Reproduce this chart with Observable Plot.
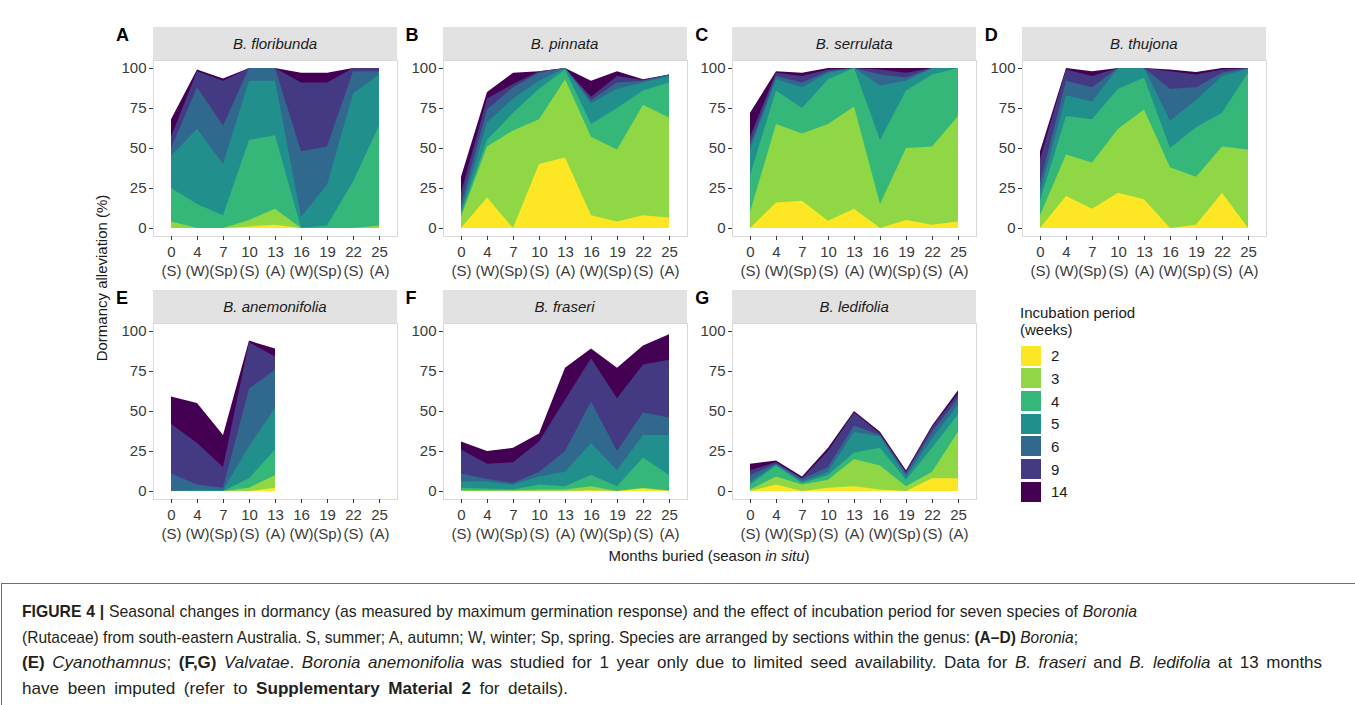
<!DOCTYPE html>
<html>
<head>
<meta charset="utf-8">
<script src="https://cdn.jsdelivr.net/npm/d3@7"></script>
<script src="https://cdn.jsdelivr.net/npm/@observablehq/plot@0.6"></script>
<style>
  html, body { margin: 0; padding: 0; background: #fff; }
  #root { position: relative; width: 1355px; height: 705px; overflow: hidden; background: #fff;
          font-family: "Liberation Sans", Arial, Helvetica, sans-serif; color: #1a1a1a; }
  .abs { position: absolute; }
  .strip { position: absolute; background: #e2e2e2; font-style: italic; font-size: 15px; color: #1a1a1a;
           display: flex; align-items: center; justify-content: center; }
  .letter { position: absolute; font-weight: bold; font-size: 18px; line-height: 18px; color: #000; }
  .cap { position: absolute; left: 22px; white-space: nowrap; font-size: 17px; line-height: 25.5px; color: #231f20;
         font-family: "Liberation Sans Narrow", "Arial Narrow", "Liberation Sans", Arial, sans-serif; transform-origin: 0 50%; }
  .leg { position: absolute; font-size: 15px; line-height: 17px; color: #1a1a1a; white-space: nowrap; }
</style>
</head>
<body>
<div id="root"></div>
<script>
// ---------- data ----------
const months  = [0, 4, 7, 10, 13, 16, 19, 22, 25];
const seasons = ["S", "W", "Sp", "S", "A", "W", "Sp", "S", "A"];
const periods = [2, 3, 4, 5, 6, 9, 14];            // incubation period (weeks)
const speciesNames = ["B. floribunda", "B. pinnata", "B. serrulata", "B. thujona",
                      "B. anemonifolia", "B. fraseri", "B. ledifolia"];
const panelLetters = ["A", "B", "C", "D", "E", "F", "G"];

// rows = incubation periods (2,3,4,5,6,9,14 weeks); columns = months buried
const floribunda = [
  [0, 0, 0, 1, 2, 0, 0, 0, 0],
  [4, 0, 0, 5, 12, 0, 0, 0, 1.5],
  [25, 15, 8, 55, 58, 0, 1.5, 29, 64],
  [45, 62, 40, 92, 92, 7, 27, 84, 96],
  [50, 88, 64, 100, 100, 48, 51, 98, 98],
  [57, 98, 92, 100, 100, 91, 91, 100, 100],
  [68, 99, 93.5, 100, 100, 97, 97, 100, 100]
];
const pinnata = [
  [0, 19, 0, 40, 44, 8, 4, 8, 6.5],
  [7, 51, 61, 68, 93, 57, 49, 77, 69],
  [9, 55, 72, 87, 99, 65, 75, 86, 91],
  [11, 66, 81, 92, 100, 78, 87, 91, 95],
  [15, 74, 88, 97, 100, 80, 91, 92, 96],
  [22, 81, 90, 98, 100, 82, 95, 92.5, 96],
  [32, 85, 97, 98, 100, 92, 98, 93, 96]
];
const serrulata = [
  [0, 16, 17, 4.5, 12, 0, 5, 2, 4],
  [10, 65, 59, 65, 76, 15, 50, 51, 70],
  [33, 86, 75, 93, 100, 55, 86, 96, 100],
  [49, 93, 88, 97, 100, 89, 92, 100, 100],
  [52, 95, 91, 98, 100, 96, 94, 100, 100],
  [57, 97, 95, 99, 100, 99, 97, 100, 100],
  [72, 98, 97, 100, 100, 100, 100, 100, 100]
];
const thujona = [
  [0, 20, 12, 22, 18, 0, 2, 22, 0],
  [8, 46, 41, 62, 74, 38, 32, 51, 49],
  [17, 70, 68, 87, 94, 50, 63, 72, 97],
  [22, 83, 79, 100, 100, 67, 80, 95, 99.5],
  [28, 92, 88, 100, 100, 87, 88, 97, 100],
  [43, 99, 95, 100, 100, 98, 96, 99, 100],
  [48, 100, 98, 100, 100, 99, 97.5, 100, 100]
];
const anemonifolia = [
  [0, 0, 0, 0, 2, null, null, null, null],
  [0, 0, 0, 2, 10, null, null, null, null],
  [0, 0, 0, 8, 26, null, null, null, null],
  [0, 1, 0.5, 28, 52, null, null, null, null],
  [11, 4, 2, 64, 76, null, null, null, null],
  [42, 30, 15, 93, 84, null, null, null, null],
  [59, 55, 35, 94, 89, null, null, null, null]
];
const fraseri = [
  [0, 0, 0, 0, 0, 0.5, 0, 1.5, 0],
  [0.5, 0.5, 0.5, 1, 1, 3, 0, 2, 0.5],
  [2, 1.5, 1, 4, 3, 10, 3, 21, 10],
  [6, 6, 4, 9, 12, 30, 13, 35, 35],
  [11, 7.5, 5, 12, 25, 56, 25, 49, 46],
  [26, 17, 18, 31, 57, 83, 58, 79, 82],
  [31, 25, 27, 36, 77, 89, 77, 91, 98]
];
const ledifolia = [
  [0, 4, 0, 2, 3, 1, 0, 8, 8],
  [1, 9, 4, 7, 20, 16, 3, 12, 37],
  [4, 16, 5, 10, 24, 27, 7, 27, 48],
  [6, 16.5, 6, 12, 37, 34, 9, 33, 54],
  [10, 17, 7.5, 15, 41, 35, 11, 37, 58],
  [13, 18, 8, 25, 49, 36, 12, 40, 61],
  [17, 19, 9, 27, 50, 37, 13, 41, 63]
];
const speciesValues = [floribunda, pinnata, serrulata, thujona, anemonifolia, fraseri, ledifolia];

// ---------- styles ----------
const viridis = ["#FDE725", "#8FD744", "#35B779", "#21908C", "#31688E", "#443A83", "#440154"];

// ---------- layout ----------
const root = document.getElementById("root");
const frameLefts = [153, 442.6, 732.2, 1021.8];
const frameTops = [60, 323];
const frameW = 244, frameH = 176, stripH = 33.5;
const mL = 44, mR = 8, mT = 1, mB = 46;
const seasonOf = new Map(months.map((m, i) => [m, seasons[i]]));

function tidy(values) {
  const out = [];
  values.forEach((row, pi) => row.forEach((v, mi) => {
    if (v != null) out.push({month: months[mi], period: periods[pi], value: v});
  }));
  return out;
}

speciesNames.forEach((name, k) => {
  const col = k < 4 ? k : k - 4;
  const row = k < 4 ? 0 : 1;
  const fl = frameLefts[col], ft = frameTops[row];
  const data = tidy(speciesValues[k]);

  const strip = document.createElement("div");
  strip.className = "strip";
  Object.assign(strip.style, {left: fl + "px", top: (ft - stripH) + "px", width: frameW + "px", height: stripH + "px"});
  strip.textContent = name;
  root.appendChild(strip);

  const letter = document.createElement("div");
  letter.className = "letter";
  Object.assign(letter.style, {left: (fl - 37) + "px", top: (ft - 34.3) + "px"});
  letter.textContent = panelLetters[k];
  root.appendChild(letter);

  const chart = Plot.plot({
    width: mL + frameW + mR,
    height: mT + frameH + mB,
    marginLeft: mL, marginRight: mR, marginTop: mT, marginBottom: mB,
    style: {fontFamily: "'Liberation Sans', Arial, sans-serif", fontSize: "15px", background: "transparent",
            overflow: "visible", color: "#3a3a3a"},
    x: {type: "point", domain: months, padding: 0.6},
    y: {domain: [-5, 105]},
    color: {type: "ordinal", domain: periods, range: viridis},
    marks: [
      ...periods.slice().reverse().map(p =>
        Plot.areaY(data.filter(d => d.period === p), {x: "month", y1: 0, y2: "value", fill: "period"})),
      Plot.frame({stroke: "#d9d9d9"}),
      Plot.axisY({ticks: [0, 25, 50, 75, 100], tickSize: 4, tickPadding: 3, label: null, fontSize: 15}),
      Plot.axisX({tickFormat: m => `${m}\n(${seasonOf.get(m)})`, tickSize: 4, tickPadding: 3,
                  label: null, fontSize: 15, lineHeight: 1.27})
    ]
  });
  const wrap = document.createElement("div");
  wrap.className = "abs";
  Object.assign(wrap.style, {left: (fl - mL) + "px", top: (ft - mT) + "px", width: (mL + frameW + mR) + "px"});
  wrap.appendChild(chart);
  root.appendChild(wrap);
});

// axis titles
const yTitle = document.createElement("div");
yTitle.className = "abs";
Object.assign(yTitle.style, {left: "101px", top: "278px", fontSize: "15px", whiteSpace: "nowrap",
  transform: "translate(-50%,-50%) rotate(-90deg)", color: "#1a1a1a"});
yTitle.textContent = "Dormancy alleviation (%)";
root.appendChild(yTitle);

const xTitle = document.createElement("div");
xTitle.className = "abs";
Object.assign(xTitle.style, {left: "709px", top: "555px", fontSize: "15px", whiteSpace: "nowrap",
  transform: "translate(-50%,-50%)", color: "#1a1a1a"});
xTitle.innerHTML = "Months buried (season <i>in situ</i>)";
root.appendChild(xTitle);

// legend
const legTitle = document.createElement("div");
legTitle.className = "leg";
Object.assign(legTitle.style, {left: "1020px", top: "303.5px"});
legTitle.innerHTML = "Incubation period<br>(weeks)";
root.appendChild(legTitle);
periods.forEach((p, i) => {
  const y = 345.7 + i * 22.67;
  const key = document.createElement("div");
  key.className = "abs";
  Object.assign(key.style, {left: "1021px", top: y + "px", width: "20px", height: "20px", background: viridis[i]});
  root.appendChild(key);
  const lab = document.createElement("div");
  lab.className = "leg";
  Object.assign(lab.style, {left: "1051px", top: (y + 1.5) + "px"});
  lab.textContent = String(p);
  root.appendChild(lab);
});

// caption box
const box = document.createElement("div");
box.className = "abs";
Object.assign(box.style, {left: "1px", top: "583px", width: "1360px", height: "130px",
  borderTop: "1px solid #6d6e71", borderLeft: "1px solid #6d6e71"});
root.appendChild(box);

const capLines = [
  ["<b>FIGURE 4 |</b> Seasonal changes in dormancy (as measured by maximum germination response) and the effect of incubation period for seven species of <i>Boronia</i>", 1115],
  ["(Rutaceae) from south-eastern Australia. S, summer; A, autumn; W, winter; Sp, spring. Species are arranged by sections within the genus: <b>(A–D)</b> <i>Boronia</i>;", 1056],
  ["<b>(E)</b> <i>Cyanothamnus</i>; <b>(F,G)</b> <i>Valvatae</i>. <i>Boronia anemonifolia</i> was studied for 1 year only due to limited seed availability. Data for <i>B. fraseri</i> and <i>B. ledifolia</i> at 13 months", 1300],
  ["have been imputed (refer to <b>Supplementary Material 2</b> for details).", 546]
];
const capInfo = capLines.map(([html, target], i) => {
  const d = document.createElement("div");
  d.className = "cap";
  d.style.top = (599.25 + i * 25.5) + "px";
  d.innerHTML = html;
  root.appendChild(d);
  const w = d.getBoundingClientRect().width;
  const spaces = (d.textContent.match(/ /g) || []).length;
  return {d, target, w, spaces};
});
// blend: half of the needed stretch by horizontal scaling, the rest by word spacing
const s = Math.min(...capInfo.filter(c => c.w > 0).map(c => c.target / c.w));
capInfo.forEach(c => {
  if (!(c.w > 0) || !isFinite(s)) return;
  const r = c.target / c.w;
  const sc = s * Math.pow(r / s, 0.6);
  const extra = (c.target / sc - c.w) / Math.max(1, c.spaces);
  c.d.style.wordSpacing = extra.toFixed(2) + "px";
  c.d.style.transform = `scaleX(${sc})`;
});
</script>
</body>
</html>
